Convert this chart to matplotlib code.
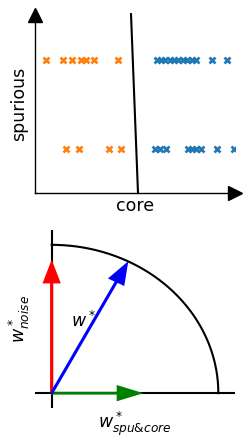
import numpy as np
import matplotlib
matplotlib.use("Agg")
import matplotlib.pyplot as plt

# top panel: points on a 0-100 scale for both axes
orange_top_core = [5.5, 14, 18.5, 23, 25.5, 29.5, 41.5]
orange_bot_core = [15.5, 22, 37, 43]
blue_top_core = [61, 63, 65, 67.5, 69.5, 71.5, 74, 76, 78.5, 80.5, 88.5, 96]
blue_bot_core = [60, 62.5, 65.5, 76.5, 78.5, 80.5, 83, 91, 99.5]
spur_top = 75
spur_bot = 25
boundary_core = [51.5, 48]
boundary_spur = [0, 100.5]

# bottom panel: vectors
w_spu_core = (0.55, 0.0)
w_noise = (0.0, 0.9)
w_star = (0.46, 0.89)

W, H = 249, 447
fig = plt.figure(figsize=(W / 100, H / 100), dpi=100)

ax1 = fig.add_axes([35 / W, (H - 193) / H, 200 / W, 178 / H])
ax1.plot(orange_top_core, [spur_top] * len(orange_top_core), "x", color="#ff7f0e", ms=4.3, mew=1.9)
ax1.plot(orange_bot_core, [spur_bot] * len(orange_bot_core), "x", color="#ff7f0e", ms=4.3, mew=1.9)
ax1.plot(blue_top_core, [spur_top] * len(blue_top_core), "x", color="#1f77b4", ms=4.3, mew=1.9)
ax1.plot(blue_bot_core, [spur_bot] * len(blue_bot_core), "x", color="#1f77b4", ms=4.3, mew=1.9)
ax1.plot(boundary_core, boundary_spur, color="black", lw=1.5, clip_on=False)
ax1.set_xlim(0, 100)
ax1.set_ylim(0, 100)
ax1.spines["top"].set_visible(False)
ax1.spines["right"].set_visible(False)
ax1.spines["left"].set_linewidth(1)
ax1.spines["bottom"].set_linewidth(1)
ax1.set_xticks([])
ax1.set_yticks([])
ax1.plot(1, 0, ">k", ms=10, transform=ax1.get_yaxis_transform(), clip_on=False)
ax1.plot(0, 1, "^k", ms=10, transform=ax1.get_xaxis_transform(), clip_on=False)
ax1.set_xlabel("core", fontsize=12.5, labelpad=3)
ax1.set_ylabel("spurious", fontsize=12.5, labelpad=5)

ax2 = fig.add_axes([35 / W, (H - 408) / H, 200 / W, 178 / H])
ax2.set_xlim(-0.1, 1.1)
ax2.set_ylim(-0.1, 1.1)
for s in ax2.spines.values():
    s.set_visible(False)
ax2.set_xticks([])
ax2.set_yticks([])
ax2.axhline(0, color="black", lw=1.5)
ax2.axvline(0, color="black", lw=1.5)
t = np.linspace(0, np.pi / 2, 200)
ax2.plot(np.cos(t), np.sin(t), color="black", lw=1.5)

arrow_kw = dict(width=0.019, head_width=0.11, head_length=0.16, length_includes_head=True, lw=0, zorder=3)
ax2.arrow(0, 0, *w_noise, color="red", **arrow_kw)
ax2.arrow(0, 0, *w_spu_core, color="green", **arrow_kw)
ax2.arrow(0, 0, *w_star, color="blue", **arrow_kw)
ax2.text(0.19, 0.49, "$w^*$", fontsize=12.5, ha="center", va="center")
ax2.set_xlabel("$w^*_{spu&core}$", fontsize=12.5, labelpad=1)
ax2.set_ylabel("$w^*_{noise}$", fontsize=12.5, labelpad=2)

fig.savefig("out.png", dpi=100)
